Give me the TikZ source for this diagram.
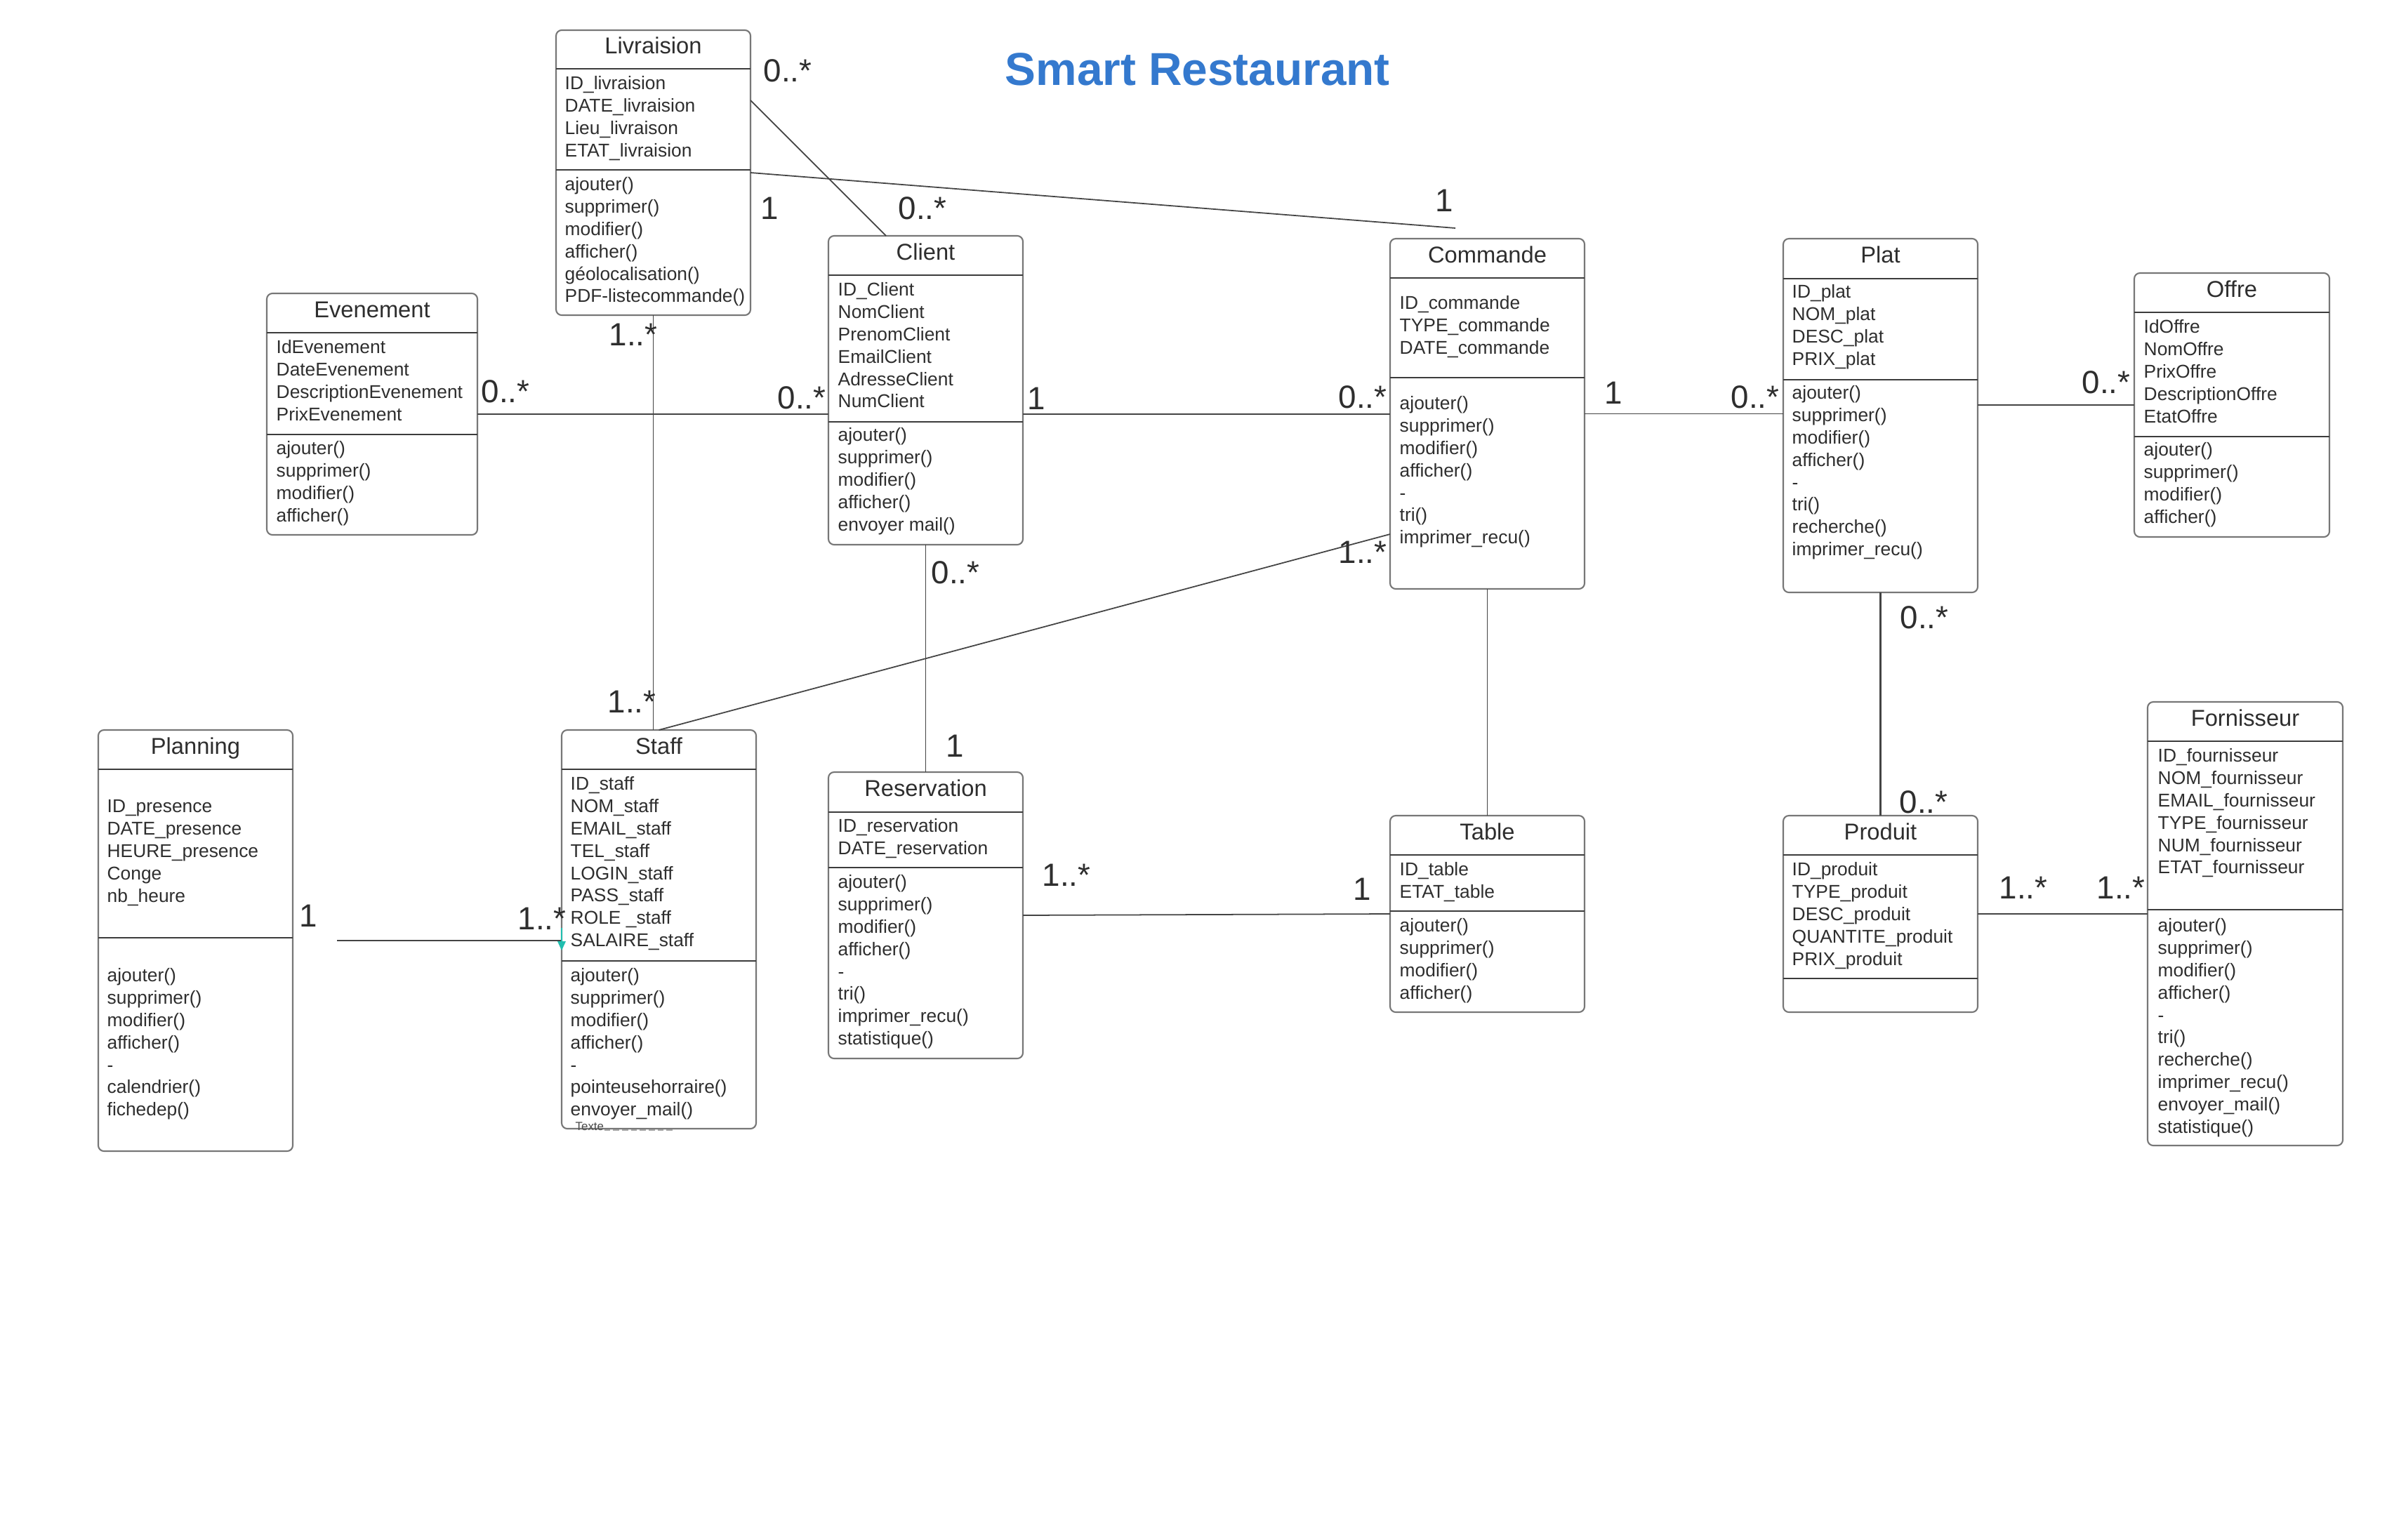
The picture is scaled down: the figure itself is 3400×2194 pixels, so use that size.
\documentclass[tikz,border=0pt]{standalone}
\usepackage{fontspec}
\setmainfont{Liberation Sans}
\usepackage{tikz}
\usetikzlibrary{calc}
\definecolor{txt}{HTML}{2E2E2E}
\definecolor{boxline}{HTML}{777777}
\definecolor{sepcol}{HTML}{3C3C3C}
\definecolor{linkcol}{HTML}{444444}
\definecolor{titleblue}{RGB}{52,121,206}
\definecolor{selteal}{RGB}{32,190,175}
\tikzset{
classbox/.style={draw=boxline, line width=0.6pt, rounded corners=2.3pt, anchor=north west, inner sep=0pt, outer sep=0pt}, % one UML class
sepline/.style={draw=sepcol, line width=0.55pt},
classname/.style={anchor=base, inner sep=0pt, text=txt, font=\fontsize{9.3}{11}\selectfont},
members/.style={anchor=north west, yshift=6.335pt, align=left, inner sep=0pt, text=txt, font=\fontsize{7.5}{9.05}\selectfont}, % placed at first baseline
mult/.style={anchor=base west, inner sep=0pt, text=txt, font=\fontsize{13}{15}\selectfont},
assoc/.style={draw=linkcol, line width=0.5pt},
}
% name, x, y, width, height, header line, separator line, title
\newcommand{\umlclass}[8]{%
  \node[classbox, minimum width=#4*0.01cm, minimum height=#5*0.01cm] (#1) at (#2,#3) {};
  \draw[sepline] (#2,#3+#6) -- (#2+#4,#3+#6);
  \draw[sepline] (#2,#3+#7) -- (#2+#4,#3+#7);
  \node[classname] (#1-name) at (#2+#4/2,#3+34) {#8};
}

\begin{document}
\begin{tikzpicture}[x=0.01cm, y=-0.01cm]
   \useasboundingbox[fill=white] (0,0) rectangle (3400,2194);
   \node[anchor=base west, inner sep=0pt, text=titleblue, font=\bfseries\fontsize{18.7}{22}\selectfont] (title) at (1431,122) {Smart Restaurant};

   \umlclass{livraison}{792}{43}{277}{406}{55}{199}{Livraision}
   \node[members] (livraison-attr) at (804,127) {\strut ID\_livraision\\DATE\_livraision\\Lieu\_livraison\\ETAT\_livraision};
   \node[members] (livraison-op) at (804,271) {\strut ajouter()\\supprimer()\\modifier()\\afficher()\\géolocalisation()\\PDF-listecommande()};

   \umlclass{evenement}{380}{418}{300}{344}{56}{201}{Evenement}
   \node[members] (evenement-attr) at (393,503) {\strut IdEvenement\\DateEvenement\\DescriptionEvenement\\PrixEvenement};
   \node[members] (evenement-op) at (393,647) {\strut ajouter()\\supprimer()\\modifier()\\afficher()};

   \umlclass{client}{1180}{336}{277}{440}{56}{265}{Client}
   \node[members] (client-attr) at (1193,421) {\strut ID\_Client\\NomClient\\PrenomClient\\EmailClient\\AdresseClient\\NumClient};
   \node[members] (client-op) at (1193,628) {\strut ajouter()\\supprimer()\\modifier()\\afficher()\\envoyer mail()};

   \umlclass{commande}{1980}{340}{277}{499}{56}{198}{Commande}
   \node[members] (commande-attr) at (1993,440) {\strut ID\_commande\\TYPE\_commande\\DATE\_commande};
   \node[members] (commande-op) at (1993,583) {\strut ajouter()\\supprimer()\\modifier()\\afficher()\\-\\tri()\\imprimer\_recu()};

   \umlclass{plat}{2540}{340}{277}{504}{57}{201}{Plat}
   \node[members] (plat-attr) at (2552,424) {\strut ID\_plat\\NOM\_plat\\DESC\_plat\\PRIX\_plat};
   \node[members] (plat-op) at (2552,568) {\strut ajouter()\\supprimer()\\modifier()\\afficher()\\-\\tri()\\recherche()\\imprimer\_recu()};

   \umlclass{offre}{3040}{389}{278}{376}{56}{233}{Offre}
   \node[members] (offre-attr) at (3053,474) {\strut IdOffre\\NomOffre\\PrixOffre\\DescriptionOffre\\EtatOffre};
   \node[members] (offre-op) at (3053,649) {\strut ajouter()\\supprimer()\\modifier()\\afficher()};

   \umlclass{planning}{140}{1040}{277}{600}{56}{296}{Planning}
   \node[members] (planning-attr) at (152,1157) {\strut ID\_presence\\DATE\_presence\\HEURE\_presence\\Conge\\nb\_heure};
   \node[members] (planning-op) at (152,1398) {\strut ajouter()\\supprimer()\\modifier()\\afficher()\\-\\calendrier()\\fichedep()};

   \umlclass{staff}{800}{1040}{277}{568}{56}{329}{Staff}
   \node[members] (staff-attr) at (812,1125) {\strut ID\_staff\\NOM\_staff\\EMAIL\_staff\\TEL\_staff\\LOGIN\_staff\\PASS\_staff\\ROLE \_staff\\SALAIRE\_staff};
   \node[members] (staff-op) at (812,1398) {\strut ajouter()\\supprimer()\\modifier()\\afficher()\\-\\pointeusehorraire()\\envoyer\_mail()};

   \umlclass{reservation}{1180}{1100}{277}{408}{57}{136}{Reservation}
   \node[members] (reservation-attr) at (1193,1185) {\strut ID\_reservation\\DATE\_reservation};
   \node[members] (reservation-op) at (1193,1265) {\strut ajouter()\\supprimer()\\modifier()\\afficher()\\-\\tri()\\imprimer\_recu()\\statistique()};

   \umlclass{table}{1980}{1162}{277}{280}{56}{136}{Table}
   \node[members] (table-attr) at (1993,1247) {\strut ID\_table\\ETAT\_table};
   \node[members] (table-op) at (1993,1327) {\strut ajouter()\\supprimer()\\modifier()\\afficher()};

   \umlclass{produit}{2540}{1162}{277}{280}{56}{232}{Produit}
   \node[members] (produit-attr) at (2552,1247) {\strut ID\_produit\\TYPE\_produit\\DESC\_produit\\QUANTITE\_produit\\PRIX\_produit};

   \umlclass{fornisseur}{3059}{1000}{278}{632}{56}{296}{Fornisseur}
   \node[members] (fornisseur-attr) at (3073,1085) {\strut ID\_fournisseur\\NOM\_fournisseur\\EMAIL\_fournisseur\\TYPE\_fournisseur\\NUM\_fournisseur\\ETAT\_fournisseur};
   \node[members] (fornisseur-op) at (3073,1327) {\strut ajouter()\\supprimer()\\modifier()\\afficher()\\-\\tri()\\recherche()\\imprimer\_recu()\\envoyer\_mail()\\statistique()};

   \node[anchor=base west, inner sep=0pt, text=black!70, font=\fontsize{4.8}{5}\selectfont] (texte) at (819,1610) {Texte};
   \draw[black!35, line width=0.4pt, dash pattern=on 2.4pt off 1.2pt] (texte.base east) -- ++(100,0);

   % associations
   \coordinate (cmdtip) at ($(commande.north west)+(93,-15)$);
   \coordinate (planend) at (480,1340);
   \draw[assoc] ($(livraison.north east)+(0,100)$) -- ($(client.north west)+(82,0)$);
   \draw[assoc] (livraison.east) -- (cmdtip);
   \draw[assoc] (evenement.east) -- (evenement.east -| client.west);
   \draw[assoc] (livraison.south) -- (livraison.south |- staff.north);
   \draw[assoc] ($(client.north east)+(0,254)$) -- ($(commande.north west)+(0,250)$);
   \draw[assoc] (commande.east) -- (commande.east -| plat.west);
   \draw[assoc] (offre.west -| plat.east) -- (offre.west);
   \draw[assoc] (client.south) -- (reservation.north);
   \draw[assoc] (staff.north) -- ($(commande.north west)+(0,421)$);
   \draw[assoc] (commande.south) -- (table.north);
   \draw[assoc] (reservation.east) -- (table.west);
   \draw[assoc, line width=0.65pt] (plat.south) -- (produit.north);
   \draw[assoc] (produit.east) -- (produit.east -| fornisseur.west);
   \draw[assoc] (planend) -- (staff.west |- planend);
   \draw[selteal, line width=0.5pt] (800,1322) -- (800,1341);
   \fill[selteal] (794,1341) -- (806,1341) -- (800,1354) -- cycle;

   % multiplicities
   \node[mult] (m-liv-cli) at (1087,117) {0..*};
   \node[mult] (m-liv-cmd) at (1083,312) {1};
   \node[mult] (m-cli-liv) at (1279,312) {0..*};
   \node[mult] (m-cmd-liv) at (2044,301) {1};
   \node[mult] (m-eve-cli) at (685,573) {0..*};
   \node[mult] (m-cli-eve) at (1107,582) {0..*};
   \node[mult] (m-liv-sta) at (867,492) {1..*};
   \node[mult] (m-sta-liv) at (865,1015) {1..*};
   \node[mult] (m-cli-cmd) at (1463,583) {1};
   \node[mult] (m-cmd-cli) at (1906,581) {0..*};
   \node[mult] (m-cmd-pla) at (2285,575) {1};
   \node[mult] (m-pla-cmd) at (2465,581) {0..*};
   \node[mult] (m-off-pla) at (2965,560) {0..*};
   \node[mult] (m-cli-res) at (1326,831) {0..*};
   \node[mult] (m-res-cli) at (1347,1078) {1};
   \node[mult] (m-cmd-sta) at (1906,802) {1..*};
   \node[mult] (m-res-tab) at (1484,1262) {1..*};
   \node[mult] (m-tab-res) at (1927,1282) {1};
   \node[mult] (m-pla-pro) at (2706,895) {0..*};
   \node[mult] (m-pro-pla) at (2705,1158) {0..*};
   \node[mult] (m-pro-for) at (2847,1280) {1..*};
   \node[mult] (m-for-pro) at (2986,1280) {1..*};
   \node[mult] (m-pla-sta) at (426,1320) {1};
   \node[mult] (m-sta-pla) at (737,1324) {1..*};
\end{tikzpicture}
\end{document}
